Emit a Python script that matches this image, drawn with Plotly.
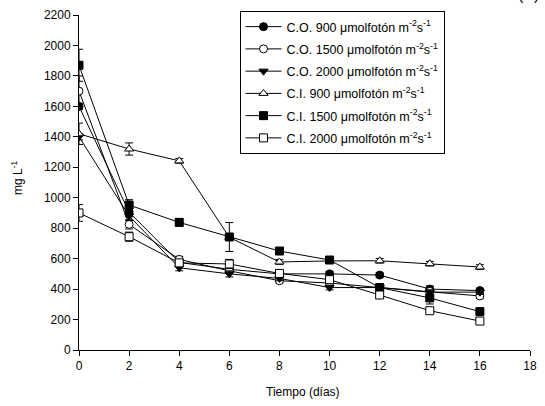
import plotly.graph_objects as go

tiempo = [0, 2, 4, 6, 8, 10, 12, 14, 16]

co_900 = [1600, 905, 575, 530, 500, 500, 492, 400, 390]
co_1500 = [1700, 825, 595, 520, 455, 440, 410, 385, 355]
co_2000 = [1400, 880, 540, 500, 470, 410, 410, 380, 380]
ci_900 = [1420, 1320, 1242, 740, 578, 585, 586, 567, 545]
ci_1500 = [1870, 952, 838, 742, 650, 591, 410, 342, 252]
ci_2000 = [900, 744, 572, 565, 503, 462, 361, 258, 190]

err_co_900 = [20, 30, 15, 15, 15, 15, 15, 20, 15]
err_co_1500 = [100, 30, 20, 15, 15, 15, 15, 15, 15]
err_co_2000 = [20, 30, 20, 20, 15, 15, 15, 15, 15]
err_ci_900 = [70, 40, 15, 15, 15, 15, 15, 15, 15]
err_ci_1500 = [105, 35, 25, 95, 15, 15, 15, 40, 15]
err_ci_2000 = [55, 30, 20, 30, 15, 15, 15, 15, 15]

labels = [
    "C.O. 900 μmolfotón m<sup>-2</sup>s<sup>-1</sup>",
    "C.O. 1500 μmolfotón m<sup>-2</sup>s<sup>-1</sup>",
    "C.O. 2000 μmolfotón m<sup>-2</sup>s<sup>-1</sup>",
    "C.I. 900 μmolfotón m<sup>-2</sup>s<sup>-1</sup>",
    "C.I. 1500 μmolfotón m<sup>-2</sup>s<sup>-1</sup>",
    "C.I. 2000 μmolfotón m<sup>-2</sup>s<sup>-1</sup>",
]
series = [co_900, co_1500, co_2000, ci_900, ci_1500, ci_2000]
errors = [err_co_900, err_co_1500, err_co_2000, err_ci_900, err_ci_1500, err_ci_2000]
symbols = ["circle", "circle", "triangle-down", "triangle-up", "square", "square"]
fills = ["black", "white", "black", "white", "black", "white"]

fig = go.Figure()
for i, (lab, ys, er, sym, fc) in enumerate(zip(labels, series, errors, symbols, fills)):
    fig.add_trace(go.Scatter(
        x=tiempo, y=ys, name=lab, mode="lines+markers", legendgroup=f"g{i}",
        line=dict(color="black", width=1),
        marker=dict(symbol=sym, size=8, color=fc, line=dict(color="black", width=1)),
        error_y=dict(type="data", array=er, visible=True, color="black", thickness=1, width=4),
    ))

FONT = "Arial, 'Liberation Sans', sans-serif"
W, H = 545, 406
L, R, T, B = 79, 8, 15, 56
pw, ph = W - L - R, H - T - B

def px_x(p):
    return (p - L) / pw

def px_y(p):
    return (H - B - p) / ph

fig.update_layout(
    width=W, height=H,
    margin=dict(l=L, r=R, t=T, b=B, pad=0),
    paper_bgcolor="white", plot_bgcolor="white",
    font=dict(family=FONT, size=12, color="black"),
    showlegend=True,
    legend=dict(
        x=px_x(242), y=px_y(11), xanchor="left", yanchor="top",
        bordercolor="black", borderwidth=1, bgcolor="white",
        font=dict(family=FONT, size=12.5, color="black"),
        tracegroupgap=3, itemwidth=36,
    ),
    xaxis=dict(
        range=[0, 18], dtick=2, tick0=0, showgrid=False, zeroline=False,
        showline=True, linecolor="black", linewidth=1,
        ticks="outside", ticklen=5, tickcolor="black", tickwidth=1,
        tickfont=dict(family=FONT, size=12),
    ),
    yaxis=dict(
        range=[0, 2200], dtick=200, tick0=0, showgrid=False, zeroline=False,
        showline=True, linecolor="black", linewidth=1,
        ticks="outside", ticklen=5, tickcolor="black", tickwidth=1,
        tickfont=dict(family=FONT, size=12),
    ),
    annotations=[
        dict(text="Tiempo (días)", xref="paper", yref="paper",
             x=px_x(306), y=px_y(392), xanchor="center", yanchor="middle",
             showarrow=False, font=dict(family=FONT, size=12)),
        dict(text="mg L<sup>-1</sup>", xref="paper", yref="paper",
             x=px_x(16), y=px_y(178), xanchor="center", yanchor="middle",
             textangle=-90, showarrow=False, font=dict(family=FONT, size=12)),
        dict(text="(A)", xref="paper", yref="paper",
             x=px_x(523), y=px_y(5), xanchor="left", yanchor="bottom",
             showarrow=False, font=dict(family=FONT, size=16, color="black")),
    ],
)

fig.write_html("out.html", config={"displayModeBar": False},
               post_script="document.body.style.margin='0';")
